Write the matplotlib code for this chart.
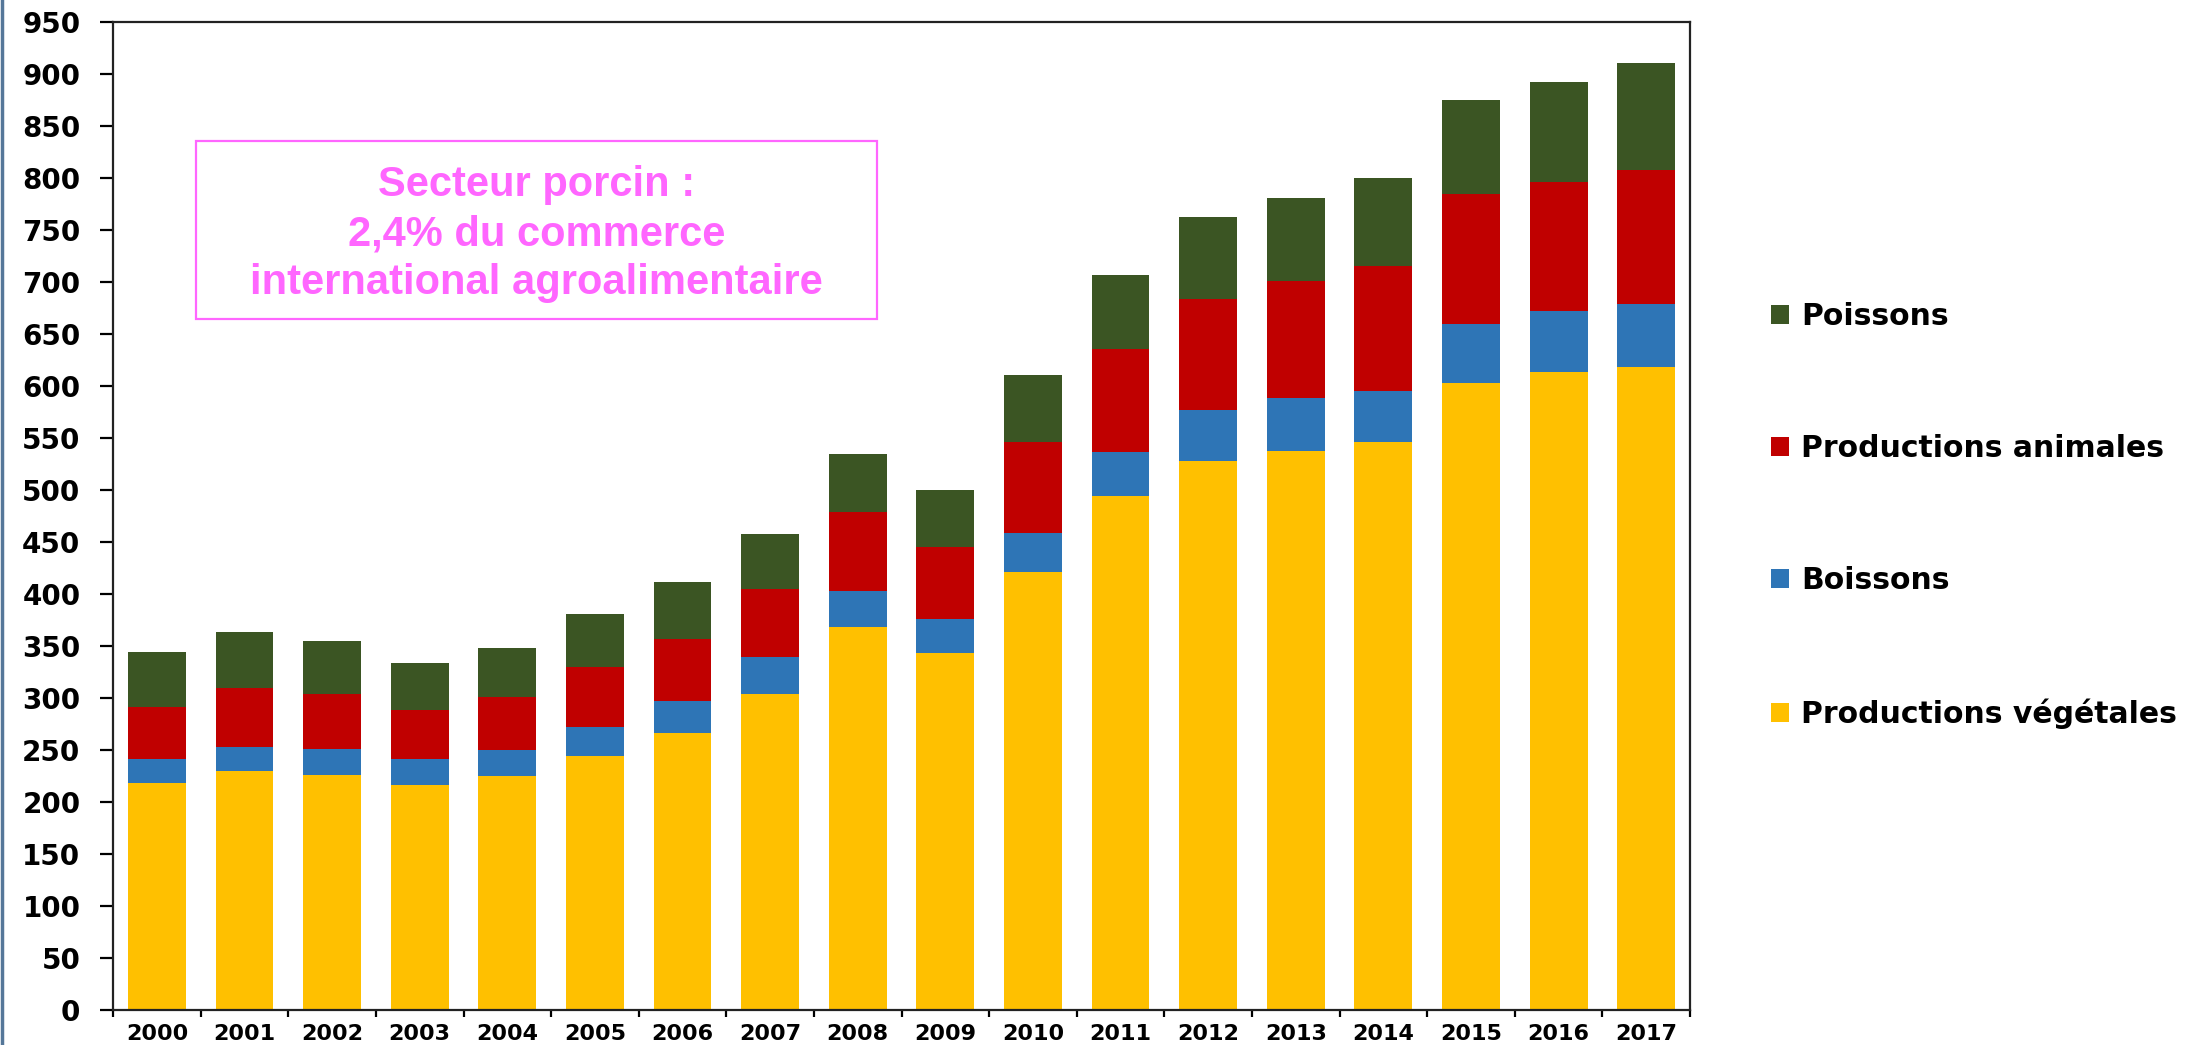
import numpy as np
import matplotlib
matplotlib.use("Agg")
import matplotlib.pyplot as plt
from matplotlib.patches import Rectangle

# valeurs (milliards), empilees de bas en haut
annees = ['2000', '2001', '2002', '2003', '2004', '2005', '2006', '2007', '2008',
          '2009', '2010', '2011', '2012', '2013', '2014', '2015', '2016', '2017']
vegetales = [218, 229.5, 226, 216, 225, 244, 266, 304, 368, 343, 421.5, 494.5, 528, 538, 546, 603, 613.5, 618]
boissons = [23, 23.5, 25, 25, 25, 28, 31, 35, 35, 33, 37.5, 42.5, 49, 50.5, 49.5, 56.5, 58.5, 61]
animales = [50, 57, 53, 47.5, 51, 57.5, 60, 66, 76, 69, 87, 99, 107, 112.5, 120, 125.5, 124, 129]
poissons = [53, 53, 51, 45.5, 47, 51.5, 55, 53, 56, 55, 65, 71, 79, 80, 84.5, 90, 96.5, 103]

series = ['Productions végétales', 'Boissons', 'Productions animales', 'Poissons']
couleurs = ['#FFC000', '#2E75B6', '#C00000', '#3B5523']
annotation = "Secteur porcin :\n2,4% du commerce\ninternational agroalimentaire"

fig = plt.figure(figsize=(21.92, 10.45), dpi=100)
ax = fig.add_axes([0.0516, 0.0335, 0.7194, 0.9454])

x = np.arange(len(annees))
bas = np.zeros(len(annees))
barres = []
for nom, vals, c in zip(series, [vegetales, boissons, animales, poissons], couleurs):
    b = ax.bar(x, vals, width=0.66, bottom=bas, color=c, linewidth=0, label=nom)
    barres.append(b)
    bas = bas + np.array(vals)

ax.set_xlim(-0.5, len(annees) - 0.5)
ax.set_ylim(0, 950)
ax.set_yticks(np.arange(0, 951, 50))
ax.set_xticks(x)
ax.set_xticklabels(annees)
ax.set_xticks(np.arange(-0.5, len(annees), 1), minor=True)

for s in ax.spines.values():
    s.set_linewidth(1.6)
    s.set_color('#222222')

ax.tick_params(axis='y', direction='out', length=9.5, width=1.6, pad=14, labelsize=20)
ax.tick_params(axis='x', which='major', length=0, pad=10, labelsize=16)
ax.tick_params(axis='x', which='minor', direction='out', length=5, width=1.6)
for lab in ax.get_xticklabels() + ax.get_yticklabels():
    lab.set_fontweight('bold')
    lab.set_family('DejaVu Sans')

# legende a droite, Poissons en haut
leg = fig.legend(barres[::-1], series[::-1], loc='center left',
                 bbox_to_anchor=(0.808, 0.5067), frameon=False,
                 prop={'family': 'DejaVu Sans', 'weight': 'bold', 'size': 21.5},
                 handlelength=0.6, handleheight=0.6, handletextpad=0.4,
                 labelspacing=3.45, borderpad=0, borderaxespad=0)

# encadre rose
fig.patches.append(Rectangle((0.0894, 0.6947), 0.3107, 0.1703, transform=fig.transFigure,
                             facecolor='white', edgecolor='#FF66FF', linewidth=1.6))
fig.text(0.2448, 0.776, annotation, ha='center', va='center', color='#FF66FF',
         family=['Liberation Sans Narrow', 'Liberation Sans'], weight='bold',
         size=30, linespacing=1.3)

# trait bleu sur le bord gauche
fig.add_artist(plt.Line2D([0.0008, 0.0008], [0, 1], transform=fig.transFigure,
                          color='#557799', linewidth=2.5))

fig.savefig('out.png', dpi=100)
